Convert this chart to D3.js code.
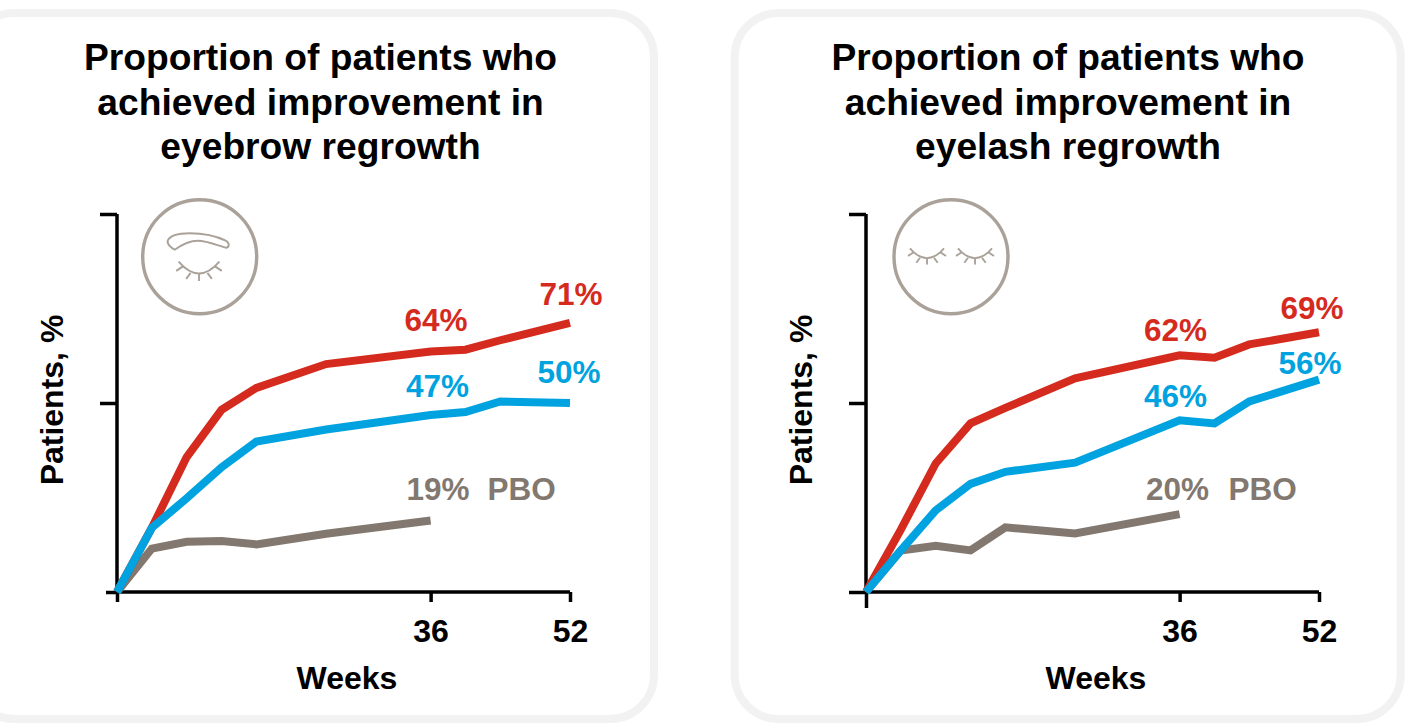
<!DOCTYPE html>
<html>
<head>
<meta charset="utf-8">
<script src="https://cdn.jsdelivr.net/npm/d3@7"></script>
<style>
  html, body { margin: 0; background: #fff; }
  svg { display: block; }
  text { font-family: "Liberation Sans", Arial, sans-serif; font-weight: bold; }
</style>
</head>
<body>
<svg id="chart" width="1413" height="727"></svg>
<script>
const yTicks = [0, 50, 100];
const xTicks = [0, 36, 52];
const weeks = [0, 4, 8, 12, 16, 24, 36, 40, 44, 52];
const pboWeeks = [0, 4, 8, 12, 16, 24, 36];

const browRed = [0, 17, 35.7, 48.2, 54, 60.3, 63.6, 64.1, 66.6, 71.2];
const browBlue = [0, 17, 24.8, 33, 39.8, 43, 46.8, 47.6, 50.4, 50];
const browGrey = [0, 11.5, 13.3, 13.5, 12.6, 15.4, 18.9];

const lashRed = [0, 16.5, 34, 44.6, 48.7, 56.5, 62.6, 62, 65.5, 68.7];
const lashBlue = [0, 11, 21.6, 28.6, 31.8, 34.2, 45.4, 44.6, 50.4, 56.2];
const lashGrey = [0, 11, 12.2, 11, 17.1, 15.5, 20.6];

const browTitle = ['Proportion of patients who', 'achieved improvement in', 'eyebrow regrowth'];
const lashTitle = ['Proportion of patients who', 'achieved improvement in', 'eyelash regrowth'];

const RED = '#d52b1e', BLUE = '#00a3e0', GREY = '#82786f', ICON = '#aaa198';

const svg = d3.select('#chart');

// one closed eye, lashes included, centred on the origin
function drawEye(g, cx, cy, k) {
  const eye = g.append('g').attr('transform', `translate(${cx},${cy}) scale(${k})`)
    .attr('fill', 'none').attr('stroke', ICON).attr('stroke-width', 1.9 / k);
  eye.append('path').attr('d', 'M-17,-6.7 Q0,13 17,-6.7');
  [[-13, -3, -19, 1], [-7, 2.7, -10.7, 7.7], [0, 3, 0, 9.5], [7, 2.7, 10.7, 7.7], [13, -3, 19, 1]].forEach(l => {
    eye.append('line').attr('x1', l[0]).attr('y1', l[1]).attr('x2', l[2]).attr('y2', l[3]);
  });
}

function drawPanel(opts) {
  const g = svg.append('g');

  g.append('rect')
    .attr('x', opts.boxX).attr('y', 13)
    .attr('width', opts.boxW).attr('height', 706)
    .attr('rx', 44).attr('ry', 44)
    .attr('fill', '#fff').attr('stroke', '#f2f2f2').attr('stroke-width', 8);

  g.append('text')
    .attr('text-anchor', 'middle').attr('font-size', 37.2)
    .selectAll('tspan').data(opts.title).enter().append('tspan')
    .attr('x', opts.titleX)
    .attr('y', (d, i) => 70 + i * 44.5)
    .text(d => d);

  const x = d3.scaleLinear().domain([0, 52]).range([opts.x0, opts.x0 + 453]);
  const y = d3.scaleLinear().domain([0, 100]).range([592, 214]);

  const yAxis = g.append('g').attr('transform', `translate(${opts.x0},0)`)
    .call(d3.axisLeft(y).tickValues(yTicks).tickSize(17).tickFormat(''));
  const xAxis = g.append('g').attr('transform', 'translate(0,592)')
    .call(d3.axisBottom(x).tickValues(xTicks).tickSize(10).tickPadding(17)
      .tickFormat(d => d === 0 ? '' : d));
  [yAxis, xAxis].forEach(a => {
    a.selectAll('.domain').attr('stroke', '#000').attr('stroke-width', 3.5);
    a.selectAll('line').attr('stroke', '#000').attr('stroke-width', 3.5);
  });
  yAxis.select('.domain').attr('d', 'M0,' + y(100) + 'V' + y(0));
  xAxis.select('.domain').attr('d', 'M' + x(0) + ',0H' + x(52));
  xAxis.selectAll('text').attr('fill', '#000').attr('font-size', 32)
    .attr('font-family', '"Liberation Sans", Arial, sans-serif').attr('font-weight', 'bold');

  // the two zero ticks are not the same length as the others
  yAxis.selectAll('.tick').filter(d => d === 0).select('line').attr('x2', -opts.zeroLeft);
  xAxis.selectAll('.tick').filter(d => d === 0).select('line').attr('y2', opts.zeroDown);

  g.append('text').attr('x', opts.x0 + 230).attr('y', 689)
    .attr('text-anchor', 'middle').attr('font-size', 32).text('Weeks');
  g.append('text')
    .attr('transform', `translate(${opts.x0 - 54},400) rotate(-90)`)
    .attr('text-anchor', 'middle').attr('font-size', 32).text('Patients, %');

  const line = d3.line().curve(d3.curveLinear)
    .x(d => x(d[0])).y(d => y(d[1]));
  const series = [
    [pboWeeks, opts.grey, GREY],
    [weeks, opts.red, RED],
    [weeks, opts.blue, BLUE]
  ];
  series.forEach(s => {
    g.append('path')
      .datum(s[0].map((w, i) => [w, s[1][i]]))
      .attr('d', line)
      .attr('fill', 'none').attr('stroke', s[2]).attr('stroke-width', 8)
      .attr('stroke-linejoin', 'miter');
  });

  opts.labels.forEach(l => {
    g.append('text')
      .attr('x', x(l.week) + l.dx).attr('y', y(l.value) + l.dy)
      .attr('text-anchor', 'middle').attr('font-size', 31.5)
      .attr('fill', l.color).text(l.text);
  });

  // round icon
  const icon = g.append('g');
  icon.append('circle').attr('cx', opts.iconX).attr('cy', 256.7).attr('r', 57)
    .attr('fill', '#fff').attr('stroke', ICON).attr('stroke-width', 3.4);
  opts.drawIcon(icon, opts.iconX, 256.7);
}

drawPanel({
  boxX: -30, boxW: 684, titleX: 320.5, x0: 117, iconX: 199.7, zeroLeft: 11, zeroDown: 10,
  title: browTitle, red: browRed, blue: browBlue, grey: browGrey,
  labels: [
    { week: 36, value: 64, text: '64%', color: RED, dx: 5.5, dy: -19 },
    { week: 52, value: 71, text: '71%', color: RED, dx: 1, dy: -19 },
    { week: 36, value: 47, text: '47%', color: BLUE, dx: 7, dy: -17 },
    { week: 52, value: 50, text: '50%', color: BLUE, dx: -1, dy: -20 },
    { week: 36, value: 19, text: '19%', color: GREY, dx: 7.5, dy: -20 },
    { week: 36, value: 19, text: 'PBO', color: GREY, dx: 91, dy: -20 }
  ],
  drawIcon: (g, cx, cy) => {
    g.append('path')
      .attr('transform', `translate(${cx},${cy})`)
      .attr('d', 'M-25,-7 C-28,-8 -33,-13 -32,-16 C-30,-21 -22,-23.5 -10,-23.5 C5,-23.5 18,-20 26,-16 C30,-14 30,-9 26,-9 C18,-11 8,-16 -2,-16 C-10,-16 -18,-12 -25,-7 Z')
      .attr('fill', 'none').attr('stroke', ICON).attr('stroke-width', 1.9);
    drawEye(g, cx - 0.7, cy + 13, 1.2);
  }
});

drawPanel({
  boxX: 734.7, boxW: 666, titleX: 1068, x0: 866, iconX: 951, zeroLeft: 17, zeroDown: 16,
  title: lashTitle, red: lashRed, blue: lashBlue, grey: lashGrey,
  labels: [
    { week: 36, value: 62, text: '62%', color: RED, dx: -4, dy: -17 },
    { week: 52, value: 69, text: '69%', color: RED, dx: -7, dy: -12 },
    { week: 36, value: 46, text: '46%', color: BLUE, dx: -4, dy: -11 },
    { week: 52, value: 56, text: '56%', color: BLUE, dx: -9, dy: -6 },
    { week: 36, value: 20, text: '20%', color: GREY, dx: -2, dy: -16 },
    { week: 36, value: 20, text: 'PBO', color: GREY, dx: 83, dy: -16 }
  ],
  drawIcon: (g, cx, cy) => {
    drawEye(g, cx - 24, cy - 1.7, 1);
    drawEye(g, cx + 24, cy - 1.7, 1);
  }
});
</script>
</body>
</html>
